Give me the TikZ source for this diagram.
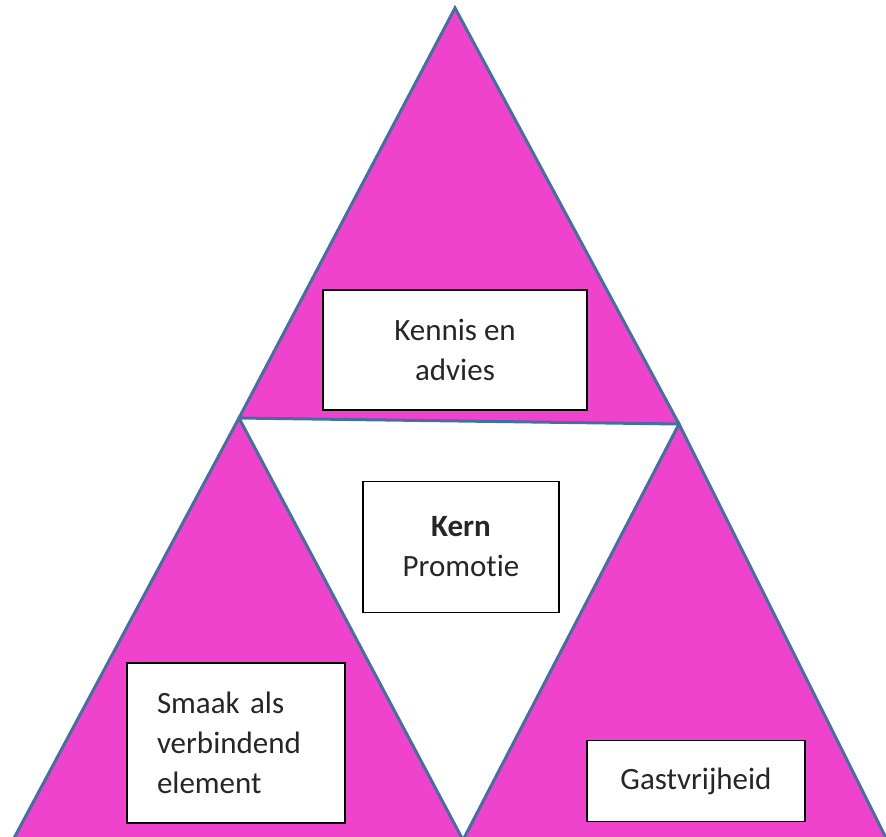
\documentclass[tikz,border=0pt]{standalone}
\usepackage{fontspec}
\setmainfont{Carlito}[Ligatures=NoCommon]
\usepackage{tikz}
\usepackage{xcolor}
\definecolor{roze}{RGB}{239,67,205}
\definecolor{rand}{RGB}{65,113,156}

\begin{document}
\begin{tikzpicture}[x=1pt,y=-1pt]
\tikzstyle{driehoek}=[fill=roze,draw=rand,line width=3pt,line join=miter]
\tikzstyle{vak}=[draw=black,fill=white,line width=1.5pt,inner sep=0pt,font=\fontsize{31}{40}\selectfont,text=black!85]
\useasboundingbox (0,0) rectangle (886,836);
\coordinate (top) at (455,8);
\coordinate (links) at (239,418);
\coordinate (rechts) at (679,424);
\coordinate (onderL) at (13,840);
\coordinate (onderM) at (463,840);
\coordinate (onderR) at (887,840);
\draw[driehoek] (links) -- (onderL) -- (onderM) -- cycle;
\draw[driehoek] (rechts) -- (onderM) -- (onderR) -- cycle;
\draw[driehoek] (top) -- (links) -- (rechts) -- cycle;
\node[vak,minimum width=264pt,minimum height=120pt,align=center](kennis) at (455,350){Kennis en\\advies};
\node[vak,minimum width=196pt,minimum height=131pt,align=center](kern) at (461,547){\textbf{Kern}\\Promotie};
\node[vak,minimum height=160pt,text width=158pt,inner xsep=30pt,align=left](smaak) at (236,743){Smaak als\\verbindend\\element};
\node[vak,minimum width=218pt,minimum height=81pt](gast) at (696,781){Gastvrijheid};
\end{tikzpicture}
\end{document}
